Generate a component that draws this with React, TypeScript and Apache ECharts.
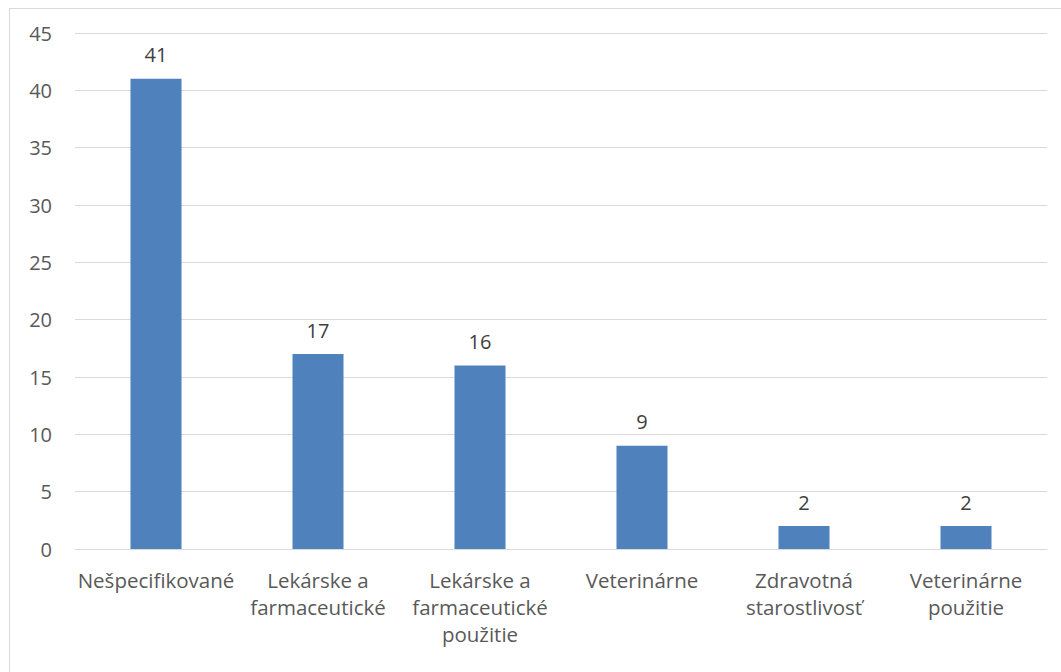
import React, { useEffect, useRef } from "react";
import * as echarts from "echarts";

const categories = [
  "Nešpecifikované",
  "Lekárske a\nfarmaceutické",
  "Lekárske a\nfarmaceutické\npoužitie",
  "Veterinárne",
  "Zdravotná\nstarostlivosť",
  "Veterinárne\npoužitie",
];
const values = [41, 17, 16, 9, 2, 2];
const yMin = 0;
const yMax = 45;
const yStep = 5;

const FONT = "Open Sans";
const TEXT = "#595959";

export default function App() {
  const ref = useRef<HTMLDivElement>(null);
  useEffect(() => {
    if (!ref.current) return;
    const chart = echarts.init(ref.current, null, { renderer: "svg" });
    chart.setOption({
      animation: false,
      backgroundColor: "#ffffff",
      textStyle: { fontFamily: FONT },
      graphic: [
        {
          type: "rect",
          shape: { x: 9.5, y: 8.5, width: 1100, height: 700 },
          style: { fill: "none", stroke: "#d9d9d9", lineWidth: 1 },
          silent: true,
        },
      ],
      grid: { left: 75, right: 14, top: 33, bottom: 123, containLabel: false },
      xAxis: {
        type: "category",
        data: categories,
        axisLine: { show: true, lineStyle: { color: "#d9d9d9", width: 1 } },
        axisTick: { show: false },
        axisLabel: {
          color: TEXT,
          fontFamily: FONT,
          fontSize: 20.5,
          lineHeight: 27,
          margin: 17,
          interval: 0,
        },
      },
      yAxis: {
        type: "value",
        min: yMin,
        max: yMax,
        interval: yStep,
        axisLine: { show: false },
        axisTick: { show: false },
        splitLine: { lineStyle: { color: "#d9d9d9", width: 1 } },
        axisLabel: { color: TEXT, fontFamily: FONT, fontSize: 20, margin: 23 },
      },
      series: [
        {
          type: "bar",
          data: values,
          barWidth: "31.5%",
          itemStyle: { color: "#4f81bd" },
          label: {
            show: true,
            position: "top",
            distance: 14,
            color: "#404040",
            fontFamily: FONT,
            fontSize: 20,
          },
        },
      ],
    });
    return () => chart.dispose();
  }, []);
  return (
    <div
      ref={ref}
      style={{ position: "fixed", left: 0, top: 0, width: 1061, height: 672 }}
    />
  );
}
